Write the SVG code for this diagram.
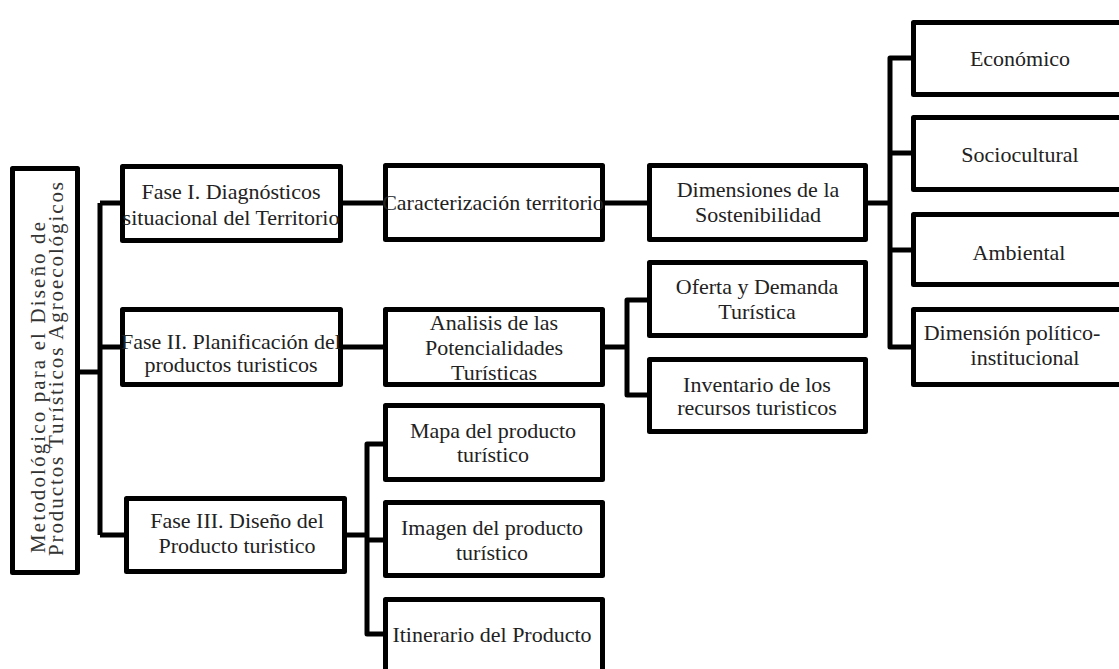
<svg xmlns="http://www.w3.org/2000/svg" width="1119" height="669" viewBox="0 0 1119 669" font-family="'Liberation Serif', 'Times New Roman', Tinos, 'DejaVu Serif', serif">
<style>
.box{fill:#fff;stroke:#000;stroke-width:5;stroke-linejoin:round}
text{font-family:'Liberation Serif','Times New Roman',Tinos,'DejaVu Serif',serif}
.lbl{font-size:22px;fill:#222;text-anchor:middle}
.rot{font-size:21px;fill:#333}
.con{fill:none;stroke:#000;stroke-width:5;stroke-linejoin:round}
</style>
<rect width="1119" height="669" fill="#fff"/>
<g id="connectors">
<path class="con" d="M80,372H100"/>
<path class="con" d="M100,203V535"/>
<path class="con" d="M100,203H120M100,347H120M100,535H124"/>
<path class="con" d="M343,203H383"/>
<path class="con" d="M605,203H647"/>
<path class="con" d="M868,203H890"/>
<path class="con" d="M911,58H890V347H911M890,153H911M890,250H911"/>
<path class="con" d="M343,347H383"/>
<path class="con" d="M605,347H627"/>
<path class="con" d="M647,300H627V395H647"/>
<path class="con" d="M347,535H367"/>
<path class="con" d="M383,444H367V634H383M367,540H383"/>
</g>
<g id="root">
<rect class="box" x="12.5" y="168.5" width="65" height="404"/>
<text class="rot" transform="translate(45,553) rotate(-90)" textLength="331" lengthAdjust="spacing">Metodológico para el Diseño de</text>
<text class="rot" transform="translate(63,556) rotate(-90)" textLength="374" lengthAdjust="spacing">Productos Turísticos Agroecológicos</text>
</g>
<g id="fase1">
<rect class="box" x="122.5" y="166.5" width="218" height="74"/>
<text class="lbl" x="231" y="199">Fase I. Diagnósticos</text>
<text class="lbl" x="231" y="225">situacional del Territorio</text>
</g>
<g id="fase2">
<rect class="box" x="122.5" y="309.5" width="218" height="75"/>
<text class="lbl" x="231" y="349">Fase II. Planificación del</text>
<text class="lbl" x="231" y="372">productos turisticos</text>
</g>
<g id="fase3">
<rect class="box" x="126.5" y="498.5" width="218" height="73"/>
<text class="lbl" x="237" y="528">Fase III. Diseño del</text>
<text class="lbl" x="237" y="553">Producto turistico</text>
</g>
<g id="caracterizacion">
<rect class="box" x="385.5" y="165.5" width="217" height="74"/>
<text class="lbl" x="493" y="210">Caracterización territorio</text>
</g>
<g id="dimensiones">
<rect class="box" x="649.5" y="165.5" width="216" height="74"/>
<text class="lbl" x="758" y="197">Dimensiones de la</text>
<text class="lbl" x="758" y="222">Sostenibilidad</text>
</g>
<g id="analisis">
<rect class="box" x="385.5" y="309.5" width="217" height="75"/>
<text class="lbl" x="494" y="330">Analisis de las</text>
<text class="lbl" x="494" y="355">Potencialidades</text>
<text class="lbl" x="494" y="380">Turísticas</text>
</g>
<g id="oferta">
<rect class="box" x="649.5" y="262.5" width="216" height="73"/>
<text class="lbl" x="757" y="294">Oferta y Demanda</text>
<text class="lbl" x="757" y="319">Turística</text>
</g>
<g id="inventario">
<rect class="box" x="649.5" y="359.5" width="216" height="72"/>
<text class="lbl" x="757" y="392">Inventario de los</text>
<text class="lbl" x="757" y="415">recursos turisticos</text>
</g>
<g id="mapa">
<rect class="box" x="385.5" y="405.5" width="217" height="74"/>
<text class="lbl" x="493" y="438">Mapa del producto</text>
<text class="lbl" x="493" y="462">turístico</text>
</g>
<g id="imagen">
<rect class="box" x="385.5" y="502.5" width="217" height="73"/>
<text class="lbl" x="492" y="535">Imagen del producto</text>
<text class="lbl" x="492" y="560">turístico</text>
</g>
<g id="itinerario">
<rect class="box" x="385.5" y="599.5" width="217" height="100"/>
<text class="lbl" x="492" y="642">Itinerario del Producto</text>
</g>
<g id="economico">
<rect class="box" x="913.5" y="22.5" width="220" height="72"/>
<text class="lbl" x="1020" y="66">Económico</text>
</g>
<g id="sociocultural">
<rect class="box" x="913.5" y="117.5" width="220" height="72"/>
<text class="lbl" x="1020" y="162">Sociocultural</text>
</g>
<g id="ambiental">
<rect class="box" x="913.5" y="214.5" width="220" height="70"/>
<text class="lbl" x="1019" y="260">Ambiental</text>
</g>
<g id="politico">
<rect class="box" x="913.5" y="309.5" width="220" height="75"/>
<text class="lbl" x="1012" y="340">Dimensión político-</text>
<text class="lbl" x="1025" y="365">institucional</text>
</g>
</svg>
